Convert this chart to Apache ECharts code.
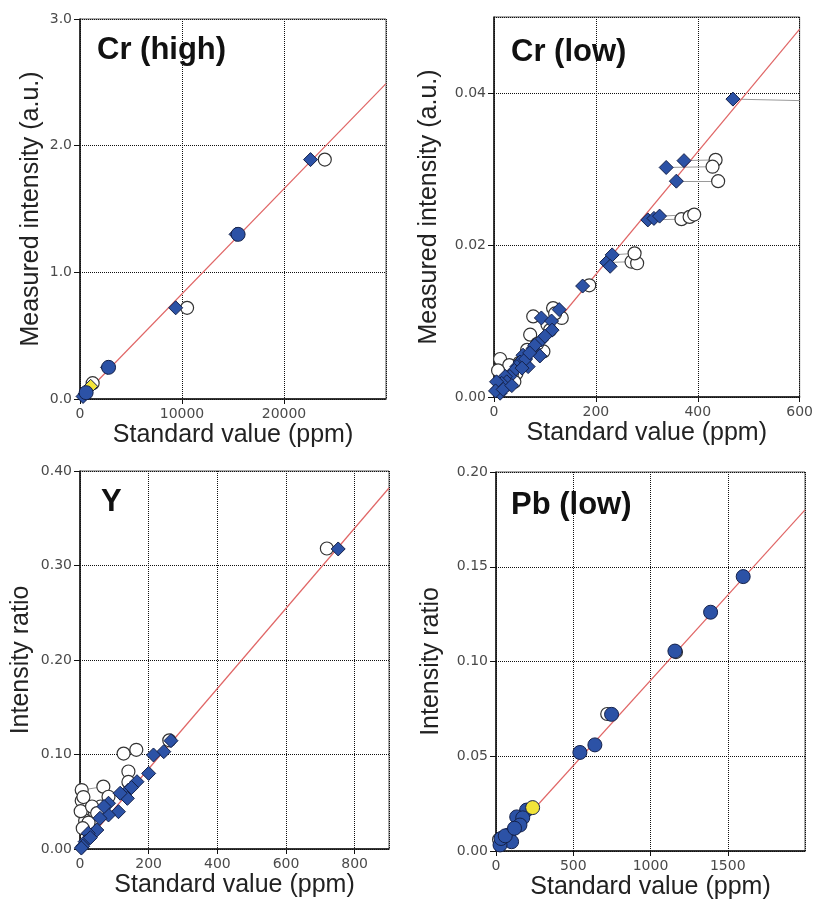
<!DOCTYPE html>
<html><head><meta charset="utf-8">
<script src="https://cdn.jsdelivr.net/npm/echarts@6/dist/echarts.min.js"></script>
<style>html,body{margin:0;padding:0;background:#fff}#c{width:816px;height:903px}</style>
</head><body><div id="c"></div>
<script>
// ---------- data ----------
const panelTitles = ['Cr (high)', 'Cr (low)', 'Y', 'Pb (low)'];
const yAxisNames = ['Measured intensity (a.u.)', 'Measured intensity (a.u.)', 'Intensity ratio', 'Intensity ratio'];
const xAxisName = 'Standard value (ppm)';
const xTicks = [[0, 30000, 10000], [0, 600, 200], [0, 900, 200], [0, 2000, 500]];
const yTicks = [[0, 3.0, 1.0], [0, 0.05, 0.02], [0, 0.40, 0.10], [0, 0.20, 0.05]];
const yDecimals = [1, 2, 2, 2];

// Cr (high)
const crHighWhite = [[24000,1.89],[10500,0.72],[1240,0.125]];
const crHighDiamond = [[22600,1.89],[9380,0.72],[15300,1.30],[2700,0.25],[500,0.04],[300,0.02]];
const crHighBlueCircle = [[15500,1.30],[2800,0.25],[600,0.05]];
const crHighYellow = [[1050,0.10]];
const crHighPairs = [[[22600,1.89],[24000,1.89]],[[9380,0.72],[10500,0.72]]];
const crHighFit = [[0,0],[30000,2.49]];

// Cr (low)
const crLowWhite = [[435,0.0312],[429,0.0303],[440,0.0284],[368,0.0234],[384,0.0237],[393,0.0240],[270,0.0178],[281,0.0176],[276,0.0189],[187,0.0147],[77,0.0106],[116,0.0117],[133,0.0104],[71,0.0082],[12,0.0050],[25,0.0016],[44,0.0031],[97,0.0060],[85,0.0070],[60,0.0050],[35,0.0030],[120,0.0110],[105,0.0095],[15,0.0030],[50,0.0045],[30,0.0042],[20,0.0025],[65,0.0062],[8,0.0035],[40,0.0020],[110,0.0088]];
const crLowDiamond = [[469,0.0392],[373,0.0311],[338,0.0302],[358,0.0284],[302,0.0233],[314,0.0235],[325,0.0238],[221,0.0177],[232,0.0187],[228,0.0172],[174,0.0146],[128,0.0115],[93,0.0104],[113,0.0100],[114,0.0088],[93,0.0075],[77,0.0064],[57,0.0055],[90,0.0054],[67,0.0040],[51,0.0046],[62,0.0050],[45,0.0040],[40,0.0035],[31,0.0027],[22,0.0027],[25,0.0020],[15,0.0018],[8,0.0011],[12,0.0005],[5,0.0020],[3,0.0008],[18,0.0010],[80,0.0068],[70,0.0058],[55,0.0038],[100,0.0080],[35,0.0015]];
const crLowPairs = [[[469,0.0392],[600,0.0390]],[[373,0.0311],[435,0.0312]],[[338,0.0302],[429,0.0303]],[[358,0.0284],[440,0.0284]],[[302,0.0233],[368,0.0234]],[[325,0.0238],[393,0.0240]],[[232,0.0187],[276,0.0189]],[[221,0.0177],[270,0.0178]]];
const crLowFit = [[0,0],[600,0.0484]];

// Y
const yWhite = [[719,0.318],[260,0.115],[127,0.101],[164,0.105],[141,0.082],[141,0.071],[68,0.066],[83,0.0553],[5,0.0624],[20,0.0378],[44,0.0378],[29,0.0219],[15,0.030],[5,0.051],[2,0.040],[60,0.045],[35,0.045],[10,0.055],[25,0.028],[50,0.038],[8,0.022]];
const yDiamond = [[752,0.3175],[265,0.1146],[244,0.103],[214,0.0995],[200,0.080],[166,0.0712],[141,0.0624],[138,0.0536],[117,0.059],[83,0.0484],[112,0.0395],[83,0.036],[58,0.0325],[49,0.0201],[24,0.0166],[15,0.0078],[8,0.003],[70,0.045],[30,0.012],[150,0.065],[4,0.001]];
const yPairs = [[[719,0.318],[752,0.3175]],[[141,0.071],[166,0.0712]],[[5,0.0624],[68,0.066]]];
const yFit = [[0,0],[900,0.382]];

// Pb (low)
const pbWhite = [[720,0.0723],[1165,0.105],[20,0.006]];
const pbBlue = [[1600,0.1448],[1389,0.126],[1158,0.1055],[748,0.0721],[640,0.056],[543,0.052],[198,0.0216],[134,0.018],[173,0.0175],[155,0.0137],[80,0.0084],[101,0.0049],[26,0.0032],[33,0.0066],[60,0.008],[120,0.012]];
const pbYellow = [[237,0.0229]];
const pbFit = [[0,0],[2000,0.18]];

// ---------- layout / styles ----------
const grids = [
  {left: 80, top: 19, width: 306, height: 380},
  {left: 494, top: 17, width: 307, height: 380},
  {left: 80, top: 471, width: 309, height: 378},
  {left: 496, top: 472, width: 309, height: 379}
];
const titlePos = [[92, 30], [506, 32], [96, 482], [506, 485]];
const yNameGap = [36, 52, 46, 52];

const BLUE = '#2c52a6', NAVY = '#14214a', YEL = '#f2e43a';
const white = (d, i) => ({type:'scatter', xAxisIndex:i, yAxisIndex:i, data:d, symbol:'circle', symbolSize:13, z:3,
  itemStyle:{color:'#fff', borderColor:'#333', borderWidth:1.2, opacity:1}});
const diamond = (d, i, c) => ({type:'scatter', xAxisIndex:i, yAxisIndex:i, data:d, symbol:'diamond', symbolSize:14, z:4,
  itemStyle:{color:c || BLUE, borderColor:NAVY, borderWidth:1, opacity:1}});
const bcircle = (d, i, c) => ({type:'scatter', xAxisIndex:i, yAxisIndex:i, data:d, symbol:'circle', symbolSize:14, z:5,
  itemStyle:{color:c || BLUE, borderColor:NAVY, borderWidth:1, opacity:1}});
const fit = (d, i) => ({type:'line', xAxisIndex:i, yAxisIndex:i, data:d, symbol:'none', z:2, silent:true,
  lineStyle:{color:'#e06666', width:1.2}});
const pairs = (p, i) => ({type:'lines', coordinateSystem:'cartesian2d', xAxisIndex:i, yAxisIndex:i, z:2,
  data:p.map(c => ({coords:c})), lineStyle:{color:'#9a9a9a', width:1, opacity:1}});

const tickFont = {fontFamily:'DejaVu Sans', fontSize:14, color:'#4a4a4a'};
const nameFont = {fontFamily:'Liberation Sans', fontSize:25, color:'#222'};

const option = {
  animation:false,
  backgroundColor:'#fff',
  title: panelTitles.map((t, i) => ({text:t, left:titlePos[i][0], top:titlePos[i][1],
    textStyle:{fontFamily:'Liberation Sans', fontSize:31, fontWeight:'bold', color:'#111'}})),
  grid: grids.map(g => Object.assign({show:true, borderColor:'#555', borderWidth:1, backgroundColor:'transparent'}, g)),
  xAxis: xTicks.map((t, i) => ({gridIndex:i, type:'value', min:t[0], max:t[1], interval:t[2],
    name:xAxisName, nameLocation:'middle', nameGap:24, nameTextStyle:nameFont,
    axisLine:{show:true, onZero:false, lineStyle:{color:'#111', width:1.5}},
    axisTick:{show:true, length:5, lineStyle:{color:'#111'}},
    axisLabel:Object.assign({margin:8, showMaxLabel: i === 1, formatter:v => String(v)}, tickFont),
    splitLine:{show:true, lineStyle:{color:'#111', type:'dotted', width:1}}})),
  yAxis: yTicks.map((t, i) => ({gridIndex:i, type:'value', min:t[0], max:t[1], interval:t[2],
    name:yAxisNames[i], nameLocation:'middle', nameGap:yNameGap[i], nameRotate:90, nameTextStyle:nameFont,
    axisLine:{show:true, onZero:false, lineStyle:{color:'#111', width:1.5}},
    axisTick:{show:true, length:6, lineStyle:{color:'#111'}},
    axisLabel:Object.assign({margin:8, showMaxLabel: i !== 1, formatter:v => v.toFixed(yDecimals[i])}, tickFont),
    splitLine:{show:true, lineStyle:{color:'#111', type:'dotted', width:1}}})),
  series: [
    fit(crHighFit, 0), pairs(crHighPairs, 0), white(crHighWhite, 0), diamond(crHighDiamond, 0), bcircle(crHighBlueCircle, 0), diamond(crHighYellow, 0, YEL),
    fit(crLowFit, 1), pairs(crLowPairs, 1), white(crLowWhite, 1), diamond(crLowDiamond, 1),
    fit(yFit, 2), pairs(yPairs, 2), white(yWhite, 2), diamond(yDiamond, 2),
    fit(pbFit, 3), white(pbWhite, 3), bcircle(pbBlue, 3), bcircle(pbYellow, 3, YEL)
  ]
};
const chart = echarts.init(document.getElementById('c'), null, {renderer:'canvas'});
chart.setOption(option);
</script>
</body></html>
